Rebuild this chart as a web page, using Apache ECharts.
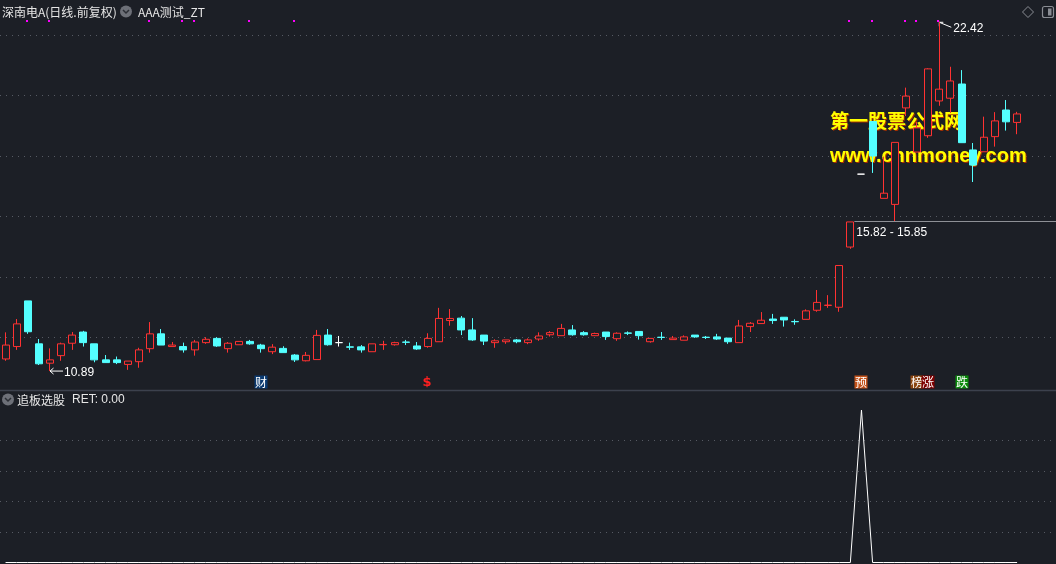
<!DOCTYPE html>
<html>
<head>
<meta charset="utf-8">
<script src="https://cdn.jsdelivr.net/npm/echarts@6/dist/echarts.min.js"></script>
<style>
html,body{margin:0;padding:0;background:#1c1f26;}
#c{width:1056px;height:564px;}
</style>
</head>
<body>
<div id="c"></div>
<script>
// ---------------- data ----------------
const categories = Array.from({length: 92}, (_, i) => 'D' + (i + 1));
const padCategories = ['P1', 'P2', 'P3'];

const open = [
  11.29, 11.70, 13.21, 11.79, 11.15, 11.40, 11.81, 12.18, 11.79, 11.26,
  11.26, 11.11, 11.20, 11.63, 12.12, 11.70, 11.70, 11.59, 11.83, 11.97,
  11.63, 11.76, 11.87, 11.75, 11.53, 11.64, 11.42, 11.23, 11.27, 12.08,
  11.83, 11.69, 11.69, 11.53, 11.76, 11.76, 11.85, 11.72, 11.70, 11.86,
  12.56, 12.64, 12.25, 12.08, 11.83, 11.86, 11.92, 11.83, 11.95, 12.09,
  12.06, 12.25, 12.16, 12.06, 12.18, 11.96, 12.15, 12.20, 11.86, 12.01,
  11.93, 11.91, 12.08, 12.01, 12.02, 11.98, 11.83, 12.36, 12.46, 12.61,
  12.67, 12.53, 12.60, 12.90, 13.06, 13.00, 14.99, 17.40, 19.14, 16.60,
  16.40, 19.59, 18.13, 18.67, 19.82, 19.91, 20.38, 18.20, 18.14, 18.64,
  19.52, 19.11
];
const close = [
  11.75, 12.45, 12.19, 11.13, 11.26, 11.79, 12.08, 11.83, 11.26, 11.17,
  11.17, 11.22, 11.59, 12.12, 11.75, 11.75, 11.59, 11.85, 11.94, 11.72,
  11.81, 11.87, 11.79, 11.63, 11.68, 11.50, 11.26, 11.41, 12.07, 11.76,
  11.83, 11.68, 11.59, 11.79, 11.77, 11.83, 11.84, 11.62, 11.97, 12.63,
  12.63, 12.25, 11.92, 11.88, 11.89, 11.92, 11.86, 11.92, 12.05, 12.16,
  12.30, 12.09, 12.09, 12.13, 12.03, 12.14, 12.14, 12.06, 11.97, 12.00,
  11.98, 12.02, 12.02, 12.00, 11.95, 11.86, 12.38, 12.47, 12.57, 12.56,
  12.58, 12.52, 12.88, 13.16, 13.07, 14.38, 15.82, 17.40, 18.00, 16.77,
  18.45, 19.98, 18.93, 20.88, 20.21, 20.48, 18.44, 17.70, 18.62, 19.16,
  19.13, 19.39
];
const low = [
  11.23, 11.59, 12.12, 11.09, 10.89, 11.23, 11.59, 11.70, 11.18, 11.17,
  11.12, 10.93, 11.00, 11.50, 11.75, 11.70, 11.50, 11.40, 11.79, 11.69,
  11.50, 11.76, 11.76, 11.50, 11.45, 11.50, 11.19, 11.21, 11.27, 11.73,
  11.70, 11.59, 11.50, 11.53, 11.59, 11.73, 11.75, 11.59, 11.66, 11.86,
  12.39, 12.08, 11.89, 11.75, 11.66, 11.79, 11.81, 11.78, 11.89, 12.03,
  12.06, 12.06, 12.06, 12.06, 11.92, 11.89, 12.08, 11.93, 11.83, 11.92,
  11.93, 11.91, 11.99, 11.95, 11.92, 11.79, 11.83, 12.18, 12.46, 12.45,
  12.36, 12.42, 12.60, 12.85, 12.98, 12.85, 14.93, 17.40, 17.44, 16.60,
  15.85, 19.32, 18.13, 18.60, 19.66, 19.42, 18.44, 17.14, 18.14, 18.31,
  18.84, 18.72
];
const high = [
  12.17, 12.61, 13.21, 11.95, 11.64, 11.83, 12.18, 12.22, 11.79, 11.42,
  11.37, 11.22, 11.66, 12.51, 12.28, 11.85, 11.83, 11.92, 12.01, 12.01,
  11.85, 11.87, 11.92, 11.79, 11.78, 11.71, 11.45, 11.52, 12.25, 12.28,
  12.05, 11.83, 11.75, 11.79, 11.89, 11.86, 11.92, 11.85, 12.14, 12.98,
  12.94, 12.71, 12.64, 12.08, 11.94, 11.92, 11.95, 11.97, 12.17, 12.21,
  12.45, 12.41, 12.21, 12.16, 12.18, 12.17, 12.20, 12.20, 11.97, 12.18,
  12.05, 12.07, 12.08, 12.05, 12.12, 11.98, 12.58, 12.51, 12.84, 12.78,
  12.67, 12.60, 12.93, 13.57, 13.40, 14.38, 15.82, 17.40, 19.14, 17.98,
  18.45, 20.26, 19.12, 20.90, 22.42, 20.95, 20.84, 18.43, 19.30, 19.45,
  19.85, 19.46
];
// 追板选股 RET
const ret = [
  0,0,0,0,0,0,0,0,0,0, 0,0,0,0,0,0,0,0,0,0,
  0,0,0,0,0,0,0,0,0,0, 0,0,0,0,0,0,0,0,0,0,
  0,0,0,0,0,0,0,0,0,0, 0,0,0,0,0,0,0,0,0,0,
  0,0,0,0,0,0,0,0,0,0, 0,0,0,0,0,0,0,1,0,0,
  0,0,0,0,0,0,0,0,0,0, 0,0
];
// price grid levels of the main pane (dotted lines)
const priceGrid = [12, 14, 16, 18, 20, 22];
const priceMin = 10.264;
const priceMax = 23.157;
// AAA测试_ZT signal days (magenta dots)
const ztSignals = [2, 4, 13, 16, 17, 22, 26, 76, 78, 81, 82, 84];
// bottom event tags
const tagIndex = [23, 38, 77, 82, 83, 86];
const tagText  = ['财', '$', '预', '榜', '涨', '跌'];
const gapFromIndex = 76;

// ---------------- chart ----------------
const BG = '#1c1f26';
const RED = '#ff3232';
const CYAN = '#54ffff';
const GRIDC = '#565a63';
const xData = categories.concat(padCategories);
const candleData = open.map((o, i) => {
  const v = [o, close[i], low[i], high[i]];
  if (o === close[i]) {
    return {value: v, itemStyle: {borderColor: '#ffffff', borderColor0: '#ffffff', color: '#ffffff', color0: '#ffffff'}};
  }
  return v;
});

const chart = echarts.init(document.getElementById('c'), null, {renderer: 'canvas'});
chart.setOption({
  backgroundColor: BG,
  animation: false,
  grid: [
    {left: 0, right: 0, top: 0, height: 390, show: false},
    {left: 0, right: 0, top: 410, height: 152.5, show: false}
  ],
  xAxis: [
    {type: 'category', data: xData, gridIndex: 0, show: false},
    {type: 'category', data: xData, gridIndex: 1, show: false}
  ],
  yAxis: [
    {type: 'value', gridIndex: 0, min: priceMin, max: priceMax,
     axisLine: {show: false}, axisTick: {show: false}, axisLabel: {show: false}, splitLine: {show: false}},
    {type: 'value', gridIndex: 1, min: 0, max: 1, interval: 0.2,
     axisLine: {show: false}, axisTick: {show: false}, axisLabel: {show: false},
     splitLine: {show: true, showMinLine: false, showMaxLine: false,
       lineStyle: {color: GRIDC, type: [1, 5], width: 1}}}
  ],
  series: [
    {type: 'candlestick', xAxisIndex: 0, yAxisIndex: 0, data: candleData, barWidth: 7.5,
     itemStyle: {color: BG, color0: CYAN, borderColor: RED, borderColor0: CYAN, borderWidth: 1}},
    {type: 'line', xAxisIndex: 1, yAxisIndex: 1, data: ret, showSymbol: false, silent: true,
     lineStyle: {color: '#ffffff', width: 1}}
  ]
});

// ---------------- overlays ----------------
const px = (i, v) => chart.convertToPixel({gridIndex: 0}, [i, v]);
const g = [];
const FONT = '12px "Noto Sans CJK SC", "Noto Sans", sans-serif';
const NUMFONT = '12px "Liberation Sans", "DejaVu Sans", sans-serif';
function text(t, x, y, opts) {
  g.push({type: 'text', x: x, y: y, silent: true,
    style: Object.assign({text: t, fill: '#e6e6e6', font: FONT, textAlign: 'left', textVerticalAlign: 'middle'}, opts || {})});
}
function line(x1, y1, x2, y2, color, w, dash) {
  const st = {stroke: color, lineWidth: w || 1};
  if (dash) st.lineDash = dash;
  g.push({type: 'line', silent: true, z: -1, shape: {x1, y1, x2, y2}, style: st});
}
function chevronIcon(cx, cy) {
  g.push({type: 'circle', silent: true, shape: {cx, cy, r: 6}, style: {fill: '#6d7078'}});
  g.push({type: 'polyline', silent: true, shape: {points: [[cx - 3, cy - 1.5], [cx, cy + 1.5], [cx + 3, cy - 1.5]]},
    style: {stroke: '#2b2e35', lineWidth: 1.5, fill: null}});
}

// main pane dotted price grid
priceGrid.forEach(p => {
  const y = Math.round(px(0, p)[1]) + 0.5;
  line(0, y, 1056, y, GRIDC, 1, [1, 5]);
});

// header
text('深南电A(日线.前复权)', 2, 12);
chevronIcon(126, 11.5);
text('AAA测试_ZT', 138, 12);
// header icons right
g.push({type: 'polygon', silent: true, shape: {points: [[1028, 6.5], [1033.5, 12], [1028, 17.5], [1022.5, 12]]},
  style: {stroke: '#8a8d94', fill: null, lineWidth: 1}});
g.push({type: 'rect', silent: true, shape: {x: 1042.5, y: 6.5, width: 11, height: 11, r: 2},
  style: {stroke: '#8a8d94', fill: null, lineWidth: 1.2}});
g.push({type: 'rect', silent: true, shape: {x: 1048, y: 8.5, width: 3.5, height: 7}, style: {fill: '#8a8d94'}});

// signal dots
ztSignals.forEach(i => {
  const x = px(i, 20)[0];
  g.push({type: 'rect', silent: true, shape: {x: Math.round(x) - 2, y: 20, width: 2, height: 2}, style: {fill: '#ff00ff'}});
});

// highest / lowest annotations
const hMax = Math.max.apply(null, high);
const maxIdx = high.indexOf(hMax);
const [hx, hy] = px(maxIdx, hMax);
g.push({type: 'polyline', silent: true, shape: {points: [[hx + 4, hy], [hx, hy], [hx, hy + 4]]}, style: {stroke: '#ffffff', lineWidth: 1, fill: null}});
g.push({type: 'line', silent: true, shape: {x1: hx, y1: hy, x2: hx + 12, y2: hy + 5}, style: {stroke: '#ffffff', lineWidth: 1}});
text(hMax.toFixed(2), hx + 14, hy + 6, {font: NUMFONT, fill: '#ffffff'});

const lMin = Math.min.apply(null, low);
const minIdx = low.indexOf(lMin);
const [lx, ly] = px(minIdx, lMin);
g.push({type: 'polyline', silent: true, shape: {points: [[lx + 3.5, ly - 3], [lx, ly], [lx + 3.5, ly + 3]]}, style: {stroke: '#ffffff', lineWidth: 1, fill: null}});
g.push({type: 'line', silent: true, shape: {x1: lx, y1: ly, x2: lx + 13, y2: ly}, style: {stroke: '#ffffff', lineWidth: 1}});
text(lMin.toFixed(2), lx + 14, ly + 1.5, {font: NUMFONT, fill: '#ffffff'});

// price gap after gapFromIndex
const gapBottom = high[gapFromIndex];
const gapTop = Math.min.apply(null, low.slice(gapFromIndex + 1));
const [gx, gy] = px(gapFromIndex, gapTop);
const gyr = Math.round(gy) + 0.5;
g.push({type: 'line', silent: true, shape: {x1: gx + 4, y1: gyr, x2: 1056, y2: gyr}, style: {stroke: '#8e9096', lineWidth: 1}});
text(gapBottom.toFixed(2) + ' - ' + gapTop.toFixed(2), gx + 6, gyr + 11, {font: NUMFONT, fill: '#ffffff'});

// watermark
text('第一股票公式网', 831, 122, {font: 'bold 19px "Noto Sans CJK SC", sans-serif', fill: '#a83000'});
text('第一股票公式网', 830, 121, {font: 'bold 19px "Noto Sans CJK SC", sans-serif', fill: '#ffff00'});
text('www.chnmoney.com', 831, 157, {font: 'bold 20px "Liberation Sans", sans-serif', fill: '#a83000'});
text('www.chnmoney.com', 830, 156, {font: 'bold 20px "Liberation Sans", sans-serif', fill: '#ffff00'});

// bottom event tags
const tagBg = {'财': '#0b3a70', '预': '#c2521a', '榜': '#8a4510', '涨': '#7d0000', '跌': '#0a8a0a'};
tagIndex.forEach((i, k) => {
  const x = px(i, 12)[0];
  const t = tagText[k];
  if (tagBg[t]) {
    g.push({type: 'rect', silent: true, shape: {x: Math.round(x) - 6.5, y: 375.5, width: 13, height: 13}, style: {fill: tagBg[t]}});
    text(t, Math.round(x), 382.5, {fill: '#ffffff', textAlign: 'center', font: '12px "Noto Sans CJK SC", sans-serif'});
  } else {
    text(t, Math.round(x) - 1, 383, {fill: '#ff2020', textAlign: 'center', font: 'bold 13px "DejaVu Sans", sans-serif'});
  }
});

// separator
g.push({type: 'line', silent: true, shape: {x1: 0, y1: 390.5, x2: 1056, y2: 390.5}, style: {stroke: '#3c414d', lineWidth: 1.5}});

// sub pane title
chevronIcon(8, 399.5);
text('追板选股', 17, 400);
text('RET: ' + ret[ret.length - 1].toFixed(2), 72, 400, {font: '12px "Liberation Sans", "Noto Sans", sans-serif'});

chart.setOption({graphic: g});
</script>
</body>
</html>
